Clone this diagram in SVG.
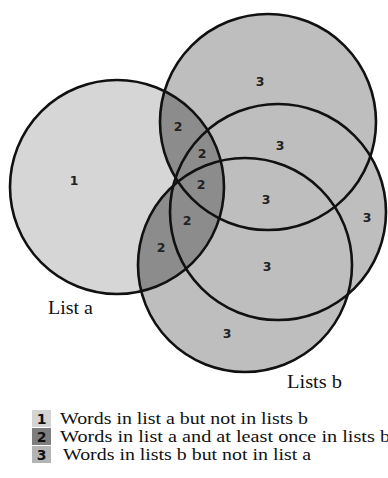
<svg xmlns="http://www.w3.org/2000/svg" width="388" height="478" viewBox="0 0 388 478">
<style>
.outline{fill:none;stroke:#111;stroke-width:2.6}
.fb{fill:#bebebe}
.fd{fill:#8c8c8c}
.num{font-family:"DejaVu Sans",Verdana,sans-serif;font-weight:bold;font-size:12.5px;fill:#222;text-anchor:middle}
.cap{font-family:"Liberation Serif","Times New Roman",serif;font-size:18px;fill:#111}
.leg{font-family:"Liberation Serif","Times New Roman",serif;font-size:16px;fill:#111}
.lnum{font-family:"DejaVu Sans",Verdana,sans-serif;font-weight:bold;font-size:14px;fill:#111;text-anchor:middle}
</style>
<defs>
<clipPath id="clipA"><circle cx="117" cy="187" r="107"/></clipPath>
</defs>
<rect width="388" height="478" fill="#fff"/>
<g id="fills">
<circle class="fb" cx="268" cy="122" r="108"/>
<circle class="fb" cx="278" cy="212" r="108"/>
<circle class="fb" cx="245" cy="265" r="107"/>
<circle cx="117" cy="187" r="107" fill="#d6d6d6"/>
<g clip-path="url(#clipA)">
<circle class="fd" cx="268" cy="122" r="108"/>
<circle class="fd" cx="278" cy="212" r="108"/>
<circle class="fd" cx="245" cy="265" r="107"/>
</g>
</g>
<g id="list-a"><circle class="outline" cx="117" cy="187" r="107"/></g>
<g id="list-b1"><circle class="outline" cx="268" cy="122" r="108"/></g>
<g id="list-b2"><circle class="outline" cx="278" cy="212" r="108"/></g>
<g id="list-b3"><circle class="outline" cx="245" cy="265" r="107"/></g>
<g id="region-labels">
<text class="num" x="74" y="185">1</text>
<text class="num" x="260" y="86">3</text>
<text class="num" x="178" y="131">2</text>
<text class="num" x="280" y="150">3</text>
<text class="num" x="202" y="158">2</text>
<text class="num" x="201" y="189">2</text>
<text class="num" x="266" y="204">3</text>
<text class="num" x="367" y="222">3</text>
<text class="num" x="187" y="225">2</text>
<text class="num" x="161" y="252">2</text>
<text class="num" x="267" y="271">3</text>
<text class="num" x="227" y="338">3</text>
</g>
<g id="captions">
<text class="cap" x="48" y="314" textLength="45" lengthAdjust="spacingAndGlyphs">List a</text>
<text class="cap" x="287" y="388" textLength="55" lengthAdjust="spacingAndGlyphs">Lists b</text>
</g>
<g id="legend">
<rect x="32" y="410" width="19" height="17" fill="#d4d4d4"/>
<text class="lnum" x="41.5" y="424">1</text>
<text class="leg" x="60" y="424" textLength="248" lengthAdjust="spacingAndGlyphs">Words in list a but not in lists b</text>
<rect x="32" y="428" width="19" height="17" fill="#7e7e7e"/>
<text class="lnum" x="41.5" y="442">2</text>
<text class="leg" x="60" y="442" textLength="330" lengthAdjust="spacingAndGlyphs">Words in list a and at least once in lists b</text>
<rect x="32" y="446" width="19" height="17" fill="#b4b4b4"/>
<text class="lnum" x="41.5" y="460">3</text>
<text class="leg" x="63" y="460" textLength="248" lengthAdjust="spacingAndGlyphs">Words in lists b but not in list a</text>
</g>
</svg>
